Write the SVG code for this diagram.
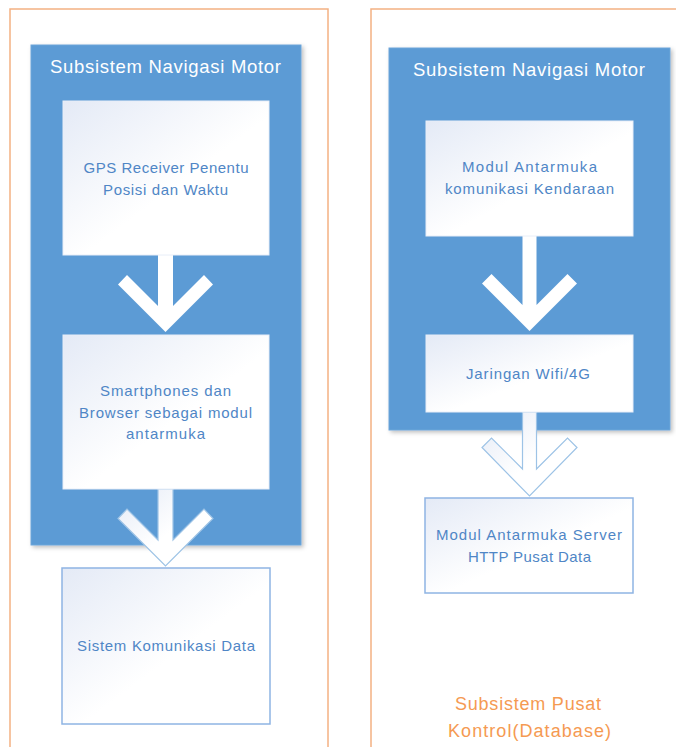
<svg xmlns="http://www.w3.org/2000/svg" width="676" height="747" viewBox="0 0 676 747">
<defs>
<linearGradient id="wg" x1="0" y1="0" x2="1" y2="1">
<stop offset="0" stop-color="#e4eaf6"/>
<stop offset="0.55" stop-color="#ffffff"/>
<stop offset="1" stop-color="#ffffff"/>
</linearGradient>
<filter id="sh" x="-5%" y="-5%" width="112%" height="112%">
<feDropShadow dx="2" dy="2" stdDeviation="2" flood-color="#000" flood-opacity="0.25"/>
</filter>
<style>
.cont{fill:#ffffff;stroke:#f4b183;stroke-width:1.5}
.blue{fill:#5b9bd5;stroke:#6fa6d9;stroke-width:1;filter:url(#sh)}
.box{fill:url(#wg);stroke:#e8eef8;stroke-width:1}
.obox{fill:url(#wg);stroke:#8eb4e3;stroke-width:1.5}
.arr{fill:#ffffff;stroke:none}
.oarr{fill:url(#wg);stroke:#9dc3e6;stroke-width:1.2}
.title{font-family:"Liberation Sans",Arial,sans-serif;font-size:18.5px;fill:#ffffff;text-anchor:middle}
.t{font-family:"Liberation Sans",Arial,sans-serif;font-size:15px;fill:#4f86c6;text-anchor:middle}
.ot{font-family:"Liberation Sans",Arial,sans-serif;font-size:18px;fill:#f59a52;text-anchor:middle}
</style>
</defs>
<rect width="676" height="747" fill="#ffffff"/>

<g id="left-container">
<rect class="cont" x="10" y="9" width="318" height="760"/>
</g>
<g id="right-container">
<rect class="cont" x="371" y="9" width="330" height="760"/>
<text class="ot" x="528" y="710" textLength="146" lengthAdjust="spacing">Subsistem Pusat</text>
<text class="ot" x="529.5" y="737" textLength="163" lengthAdjust="spacing">Kontrol(Database)</text>
</g>

<g id="left-subsystem">
<rect class="blue" x="31" y="45" width="270" height="500"/>
<text class="title" x="165.5" y="73" textLength="231" lengthAdjust="spacing">Subsistem Navigasi Motor</text>
</g>
<g id="right-subsystem">
<rect class="blue" x="389" y="48" width="281" height="382"/>
<text class="title" x="529" y="76" textLength="232" lengthAdjust="spacing">Subsistem Navigasi Motor</text>
</g>

<g id="connectors">
<polygon class="arr" points="158,255 173,255 173,306 204,275 213,284.5 165.5,332 118,284.5 127,275 158,306"/>
<polygon class="oarr" points="158,489 173,489 173,540 204,509 213,518.5 165.5,566 118,518.5 127,509 158,540"/>
<polygon class="arr" points="522.5,236 536.5,236 536.5,305 567.5,274 577,283.5 529.5,331 482,283.5 491.5,274 522.5,305"/>
<polygon class="oarr" points="522.5,412 536.5,412 536.5,469 567.5,438 577,447.5 529.5,496 482,447.5 491.5,438 522.5,469"/>
</g>

<g id="gps">
<rect class="box" x="63" y="101" width="206" height="154"/>
<text class="t" x="166" y="173" textLength="165" lengthAdjust="spacing">GPS Receiver Penentu</text>
<text class="t" x="165.5" y="195" textLength="125" lengthAdjust="spacing">Posisi dan Waktu</text>
</g>
<g id="smartphones">
<rect class="box" x="63" y="335" width="206" height="154"/>
<text class="t" x="165.5" y="396" textLength="131" lengthAdjust="spacing">Smartphones dan</text>
<text class="t" x="165.5" y="418" textLength="173" lengthAdjust="spacing">Browser sebagai modul</text>
<text class="t" x="165.5" y="439" textLength="79" lengthAdjust="spacing">antarmuka</text>
</g>
<g id="sistem-komunikasi">
<rect class="obox" x="62" y="568" width="208" height="156"/>
<text class="t" x="166" y="651" textLength="178" lengthAdjust="spacing">Sistem Komunikasi Data</text>
</g>
<g id="modul-kendaraan">
<rect class="box" x="426" y="121" width="207" height="115"/>
<text class="t" x="529.5" y="172" textLength="135" lengthAdjust="spacing">Modul Antarmuka</text>
<text class="t" x="529.5" y="194" textLength="169" lengthAdjust="spacing">komunikasi Kendaraan</text>
</g>
<g id="jaringan">
<rect class="box" x="426" y="335" width="207" height="77"/>
<text class="t" x="528" y="379" textLength="124" lengthAdjust="spacing">Jaringan Wifi/4G</text>
</g>
<g id="modul-server">
<rect class="obox" x="425" y="498" width="208" height="95"/>
<text class="t" x="529" y="540" textLength="186" lengthAdjust="spacing">Modul Antarmuka Server</text>
<text class="t" x="529.5" y="562" textLength="123" lengthAdjust="spacing">HTTP Pusat Data</text>
</g>
</svg>
